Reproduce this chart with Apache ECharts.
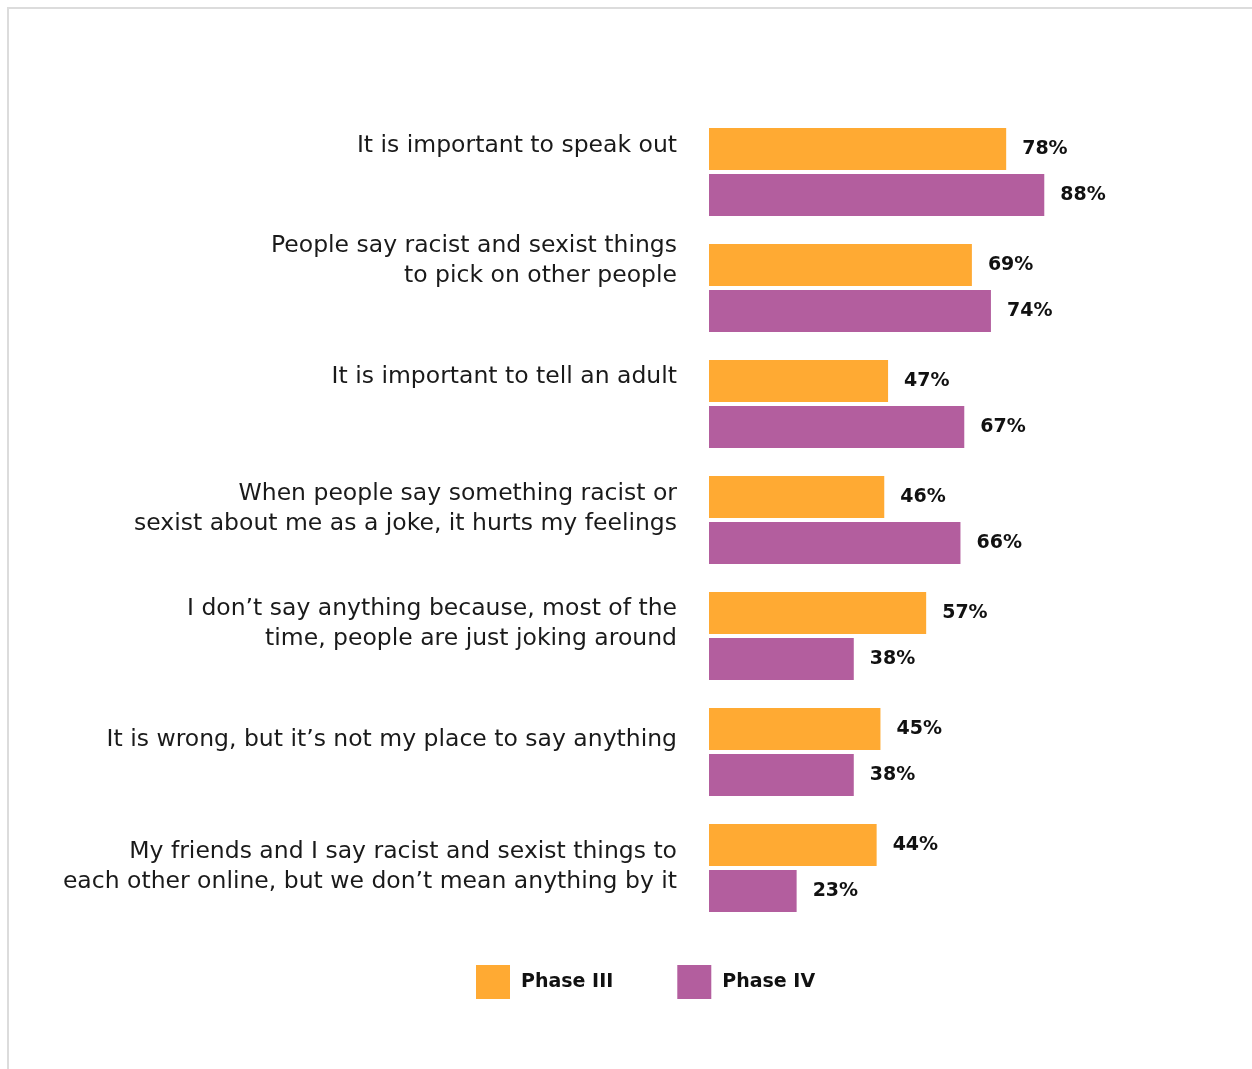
<!DOCTYPE html>
<html><head><meta charset="utf-8">
<script src="https://cdn.jsdelivr.net/npm/echarts@6/dist/echarts.min.js"></script>
<style>
html,body{margin:0;padding:0;background:#fff;}
#frame{position:absolute;left:7px;top:7px;width:1245px;height:1062px;border-left:2px solid #dcdcdc;border-top:2px solid #dcdcdc;box-sizing:border-box;}
#chart{position:absolute;left:0;top:0;width:1252px;height:1069px;}
</style></head>
<body>
<div id="frame"></div>
<div id="chart"></div>
<script>
const categories = [
  "It is important to speak out",
  "People say racist and sexist things\nto pick on other people",
  "It is important to tell an adult",
  "When people say something racist or\nsexist about me as a joke, it hurts my feelings",
  "I don\u2019t say anything because, most of the\ntime, people are just joking around",
  "It is wrong, but it\u2019s not my place to say anything",
  "My friends and I say racist and sexist things to\neach other online, but we don\u2019t mean anything by it"
];
const phase3 = [78, 69, 47, 46, 57, 45, 44];
const phase4 = [88, 74, 67, 66, 38, 38, 23];
const seriesNames = ["Phase III", "Phase IV"];

// layout: upward shift (px) of each category label relative to its group centre
const labelShift = [26, 27, 27, 11, 12, 12, 1];

const rich = {
  t: { fontFamily: 'DejaVu Sans', fontSize: 23.5, lineHeight: 29.5, color: '#1a1a1a' }
};
labelShift.forEach((s, i) => {
  rich['g' + i] = { fontSize: 1, lineHeight: Math.max(1, 2 * s), height: Math.max(1, 2 * s) };
});

const chart = echarts.init(document.getElementById('chart'));
const valLabel = { show: true, position: 'right', distance: 16, formatter: '{c}%',
  fontFamily: 'DejaVu Sans', fontWeight: 'bold', fontSize: 19, color: '#111' };

chart.setOption({
  animation: false,
  grid: { left: 709, right: 162, top: 114, height: 812 },
  xAxis: { type: 'value', min: 0, max: 100, show: false },
  yAxis: {
    type: 'category', inverse: true, data: categories,
    axisLine: { show: false }, axisTick: { show: false },
    axisLabel: {
      margin: 32, interval: 0, align: 'right', verticalAlign: 'middle',
      formatter: (v, i) => v.split('\n').map(l => '{t|' + l + '}').join('\n') + '\n{g' + i + '| }',
      rich: rich
    }
  },
  legend: {
    data: seriesNames, top: 960, left: 471,
    itemWidth: 34, itemHeight: 34, itemGap: 64,
    icon: 'rect',
    textStyle: { fontFamily: 'DejaVu Sans', fontWeight: 'bold', fontSize: 19, color: '#111', padding: [0, 0, 0, 6] }
  },
  series: [
    { name: seriesNames[0], type: 'bar', data: phase3, barWidth: 42, barGap: '10%',
      itemStyle: { color: '#FFAA33' }, label: valLabel },
    { name: seriesNames[1], type: 'bar', data: phase4, barWidth: 42,
      itemStyle: { color: '#B35E9E' }, label: valLabel }
  ]
});
</script>
</body></html>
